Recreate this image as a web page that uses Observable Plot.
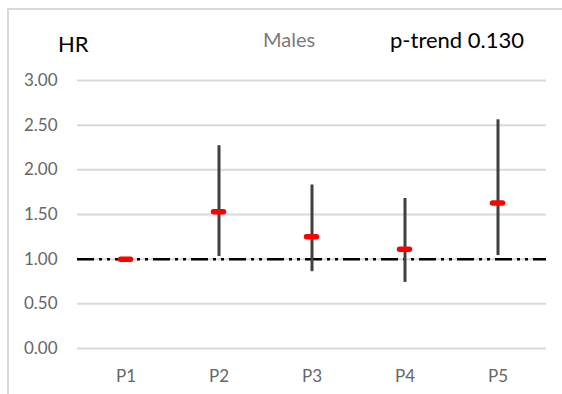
<!DOCTYPE html>
<html>
<head>
<meta charset="utf-8">
<script src="https://cdn.jsdelivr.net/npm/d3@7"></script>
<script src="https://cdn.jsdelivr.net/npm/@observablehq/plot@0.6"></script>
<style>
  html, body { margin: 0; padding: 0; background: #fff; }
  #wrap { position: relative; width: 562px; height: 394px; overflow: hidden; }
  #frame { position: absolute; left: 7px; top: 8px; width: 600px; height: 450px;
           border: 2px solid #d9d9d9; box-sizing: border-box; }
  #chart { position: absolute; left: 0; top: 0; }
</style>
</head>
<body>
<div id="wrap"><div id="frame"></div><div id="chart"></div></div>
<script>
// Data
const categories = ["P1", "P2", "P3", "P4", "P5"];
const hr    = [1.00, 1.53, 1.25, 1.11, 1.63];
const lower = [null, 1.03, 0.86, 0.74, 1.04];
const upper = [null, 2.27, 1.83, 1.68, 2.56];
const yTicks = [0, 0.5, 1, 1.5, 2, 2.5, 3];
const refValue = [1];
const yLabel = "HR";
const titleText = "Males";
const pTrendText = "p-trend 0.130";

const rows = categories.map((c, i) => ({cat: c, hr: hr[i], lo: lower[i], hi: upper[i]}));
const ciRows = rows.filter(d => d.lo != null);

const W = 562, H = 394;
const chart = Plot.plot({
  width: W,
  height: H,
  marginLeft: 77,
  marginRight: 16,
  marginTop: 80,
  marginBottom: 46,
  style: {fontFamily: "Lato, 'Open Sans', sans-serif", fontSize: "17px", color: "#595959", background: "transparent"},
  x: {type: "band", domain: categories, padding: 0},
  y: {domain: [0, 3]},
  marks: [
    Plot.gridY(yTicks, {stroke: "#d9d9d9", strokeOpacity: 1, strokeWidth: 2}),
    Plot.axisY(yTicks, {tickFormat: d => d.toFixed(2), tickSize: 0, tickPadding: 20, label: null, fill: "#666"}),
    Plot.axisX({tickSize: 0, tickPadding: 21, label: null, fill: "#666"}),
    Plot.ruleY(refValue, {stroke: "#000", strokeWidth: 2.5, strokeDasharray: "17,5,3,5,3,5"}),
    Plot.ruleX(ciRows, {x: "cat", y1: "lo", y2: "hi", stroke: "#404040", strokeWidth: 3}),
    Plot.tickY(rows, {x: "cat", y: "hr", stroke: "#ff0000", strokeWidth: 5.5, strokeLinecap: "round", insetLeft: 41.5, insetRight: 41.5})
  ]
});

const svg = d3.select(chart);
const addText = (x, y, size, fill, txt) =>
  svg.append("text").attr("x", x).attr("y", y)
    .attr("text-anchor", "start")
    .attr("font-family", "Lato, sans-serif").attr("font-size", size).attr("fill", fill)
    .text(txt);
addText(58, 52, 22, "#000", yLabel);
addText(263, 47, 20, "#7a7a7a", titleText);
addText(390, 48, 22, "#000", pTrendText);

document.getElementById("chart").appendChild(chart);
</script>
</body>
</html>
